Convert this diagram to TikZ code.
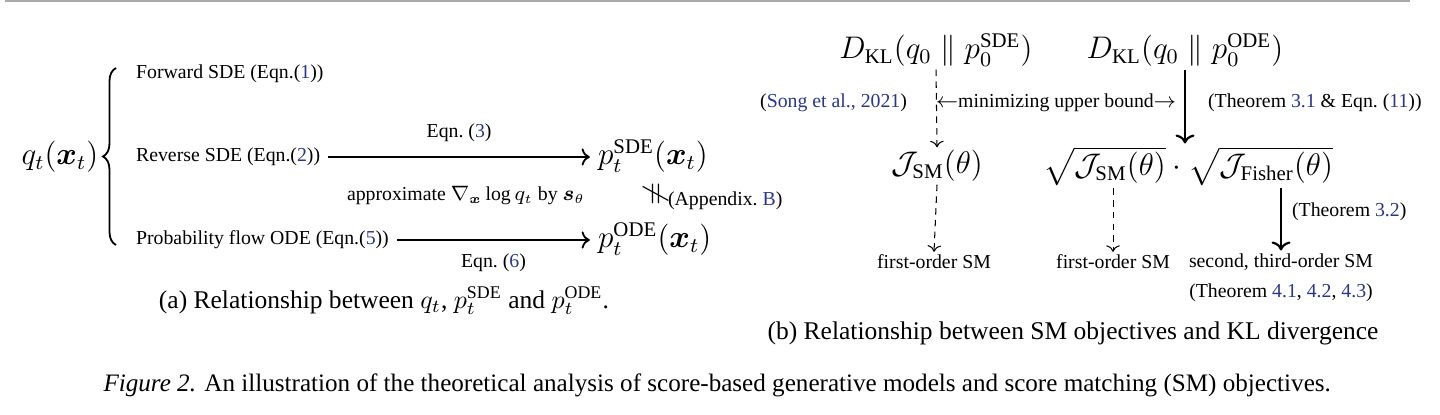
\documentclass[tikz,border=0pt]{standalone}
\usepackage{amsmath,amssymb,graphicx,xcolor}
\usepackage{fontspec}
\setmainfont{Liberation Serif}
\definecolor{citeblue}{RGB}{40,55,140}
\definecolor{rulegray}{RGB}{170,170,170}
\usetikzlibrary{arrows.meta,positioning,decorations.pathreplacing,calc}
\newcommand{\cit}[1]{\textcolor{citeblue}{#1}}
\tikzset{
  txt/.style={font=\fontsize{7.6}{9}\selectfont, inner sep=1pt},
  bigmath/.style={font=\fontsize{12}{14}\selectfont, inner sep=1pt},
  captxt/.style={font=\fontsize{9.8}{12}\selectfont, inner sep=0pt},
  solidarr/.style={-{Computer Modern Rightarrow}, line width=0.7pt},
  thickarr/.style={-{Computer Modern Rightarrow}, line width=0.85pt},
  dasharr/.style={-{Computer Modern Rightarrow}, line width=0.4pt, dash pattern=on 2.5pt off 2pt},
}

\begin{document}
\begin{tikzpicture}[x=0.0135cm, y=-0.0135cm]
  \useasboundingbox (0,0) rectangle (1440,415);
  % page rule
  \draw[rulegray, line width=0.5pt] (5,1) -- (1410,1);
  % (a) q_t and its three processes
  \node[bigmath] (q) at (60,157) {$q_t(\boldsymbol{x}_t)$};
  \draw[decorate, decoration={brace, amplitude=5pt}, line width=0.7pt] (116,245) -- (116,68);
  \node[txt, anchor=west] (fwd) at (133,74) {Forward SDE (Eqn.(\cit{1}))};
  \node[txt, anchor=west] (rev) at (133,157) {Reverse SDE (Eqn.(\cit{2}))};
  \node[txt, anchor=west] (pfo) at (133,240) {Probability flow ODE (Eqn.(\cit{5}))};
  \node[bigmath, anchor=west] (psde) at (595,156) {$p_t^{\mathrm{SDE}}(\boldsymbol{x}_t)$};
  \node[bigmath, anchor=west] (pode) at (595,239) {$p_t^{\mathrm{ODE}}(\boldsymbol{x}_t)$};
  \node[txt] (approx) at (466,196) {approximate $\nabla_{\boldsymbol{x}}\log q_t$ by $\boldsymbol{s}_\theta$};
  \node[txt, anchor=west] (appb) at (640,196) {\scalebox{1.35}{\rotatebox{90}{$\neq$}}(Appendix.~\cit{B})};
  % arrows of (a)
  \draw[solidarr, shorten <=2pt, shorten >=2pt] (rev.east) -- (rev.east -| psde.west)
    node[txt, midway, above=4.5pt] (eq3) {Eqn.~(\cit{3})};
  \draw[solidarr, shorten <=2pt, shorten >=2pt] (pfo.east) -- (pfo.east -| pode.west)
    node[txt, midway, below=4pt] (eq6) {Eqn.~(\cit{6})};
  \node[captxt] (capa) at (384,301) {(a) Relationship between $q_t$, $p_t^{\mathrm{SDE}}$ and $p_t^{\mathrm{ODE}}$.};

  % (b) KL divergences and SM objectives
  \node[bigmath] (dsde) at (936,50) {$D_{\mathrm{KL}}(q_0\parallel p_0^{\mathrm{SDE}})$};
  \node[bigmath] (dode) at (1185,50) {$D_{\mathrm{KL}}(q_0\parallel p_0^{\mathrm{ODE}})$};
  \node[txt, anchor=east] (song) at (910,103) {(\cit{Song et al., 2021})};
  \node[txt] (minub) at (1056,103) {$\leftarrow$minimizing upper bound$\rightarrow$};
  \node[txt, anchor=west] (thm31) at (1205,103) {(Theorem \cit{3.1} \& Eqn.~(\cit{11}))};
  \node[bigmath] (jsm) at (937,166) {$\mathcal{J}_{\mathrm{SM}}(\theta)$};
  \node[bigmath] (prod) at (1188,166) {$\sqrt{\mathcal{J}_{\mathrm{SM}}(\theta)}\cdot\sqrt{\mathcal{J}_{\mathrm{Fisher}}(\theta)}$};
  \node[txt] (fo1) at (934,262) {first-order SM};
  \node[txt] (fo2) at (1113,262) {first-order SM};
  \node[txt] (so) at (1281,262) {second, third-order SM};
  \node[txt] (thm4) at (1281,293) {(Theorem \cit{4.1}, \cit{4.2}, \cit{4.3})};
  \node[txt, anchor=west] (thm32) at (1289,212) {(Theorem \cit{3.2})};
  % arrows of (b)
  \draw[dasharr] (dsde.south) -- (jsm.north);
  \draw[thickarr] (dode.south) -- (dode.south |- prod.north);
  \draw[dasharr] (jsm.south) -- (fo1.north);
  \draw[dasharr] (prod.south -| fo2.north) -- (fo2.north);
  \draw[thickarr] (prod.south -| so.north) -- (so.north);
  \node[captxt] (capb) at (1073,333) {(b) Relationship between SM objectives and KL divergence};

  % figure caption
  \node[captxt, anchor=west, font=\fontsize{9.65}{12}\selectfont] (figcap) at (103,385) {\textit{Figure 2.} An illustration of the theoretical analysis of score-based generative models and score matching (SM) objectives.};
\end{tikzpicture}
\end{document}
